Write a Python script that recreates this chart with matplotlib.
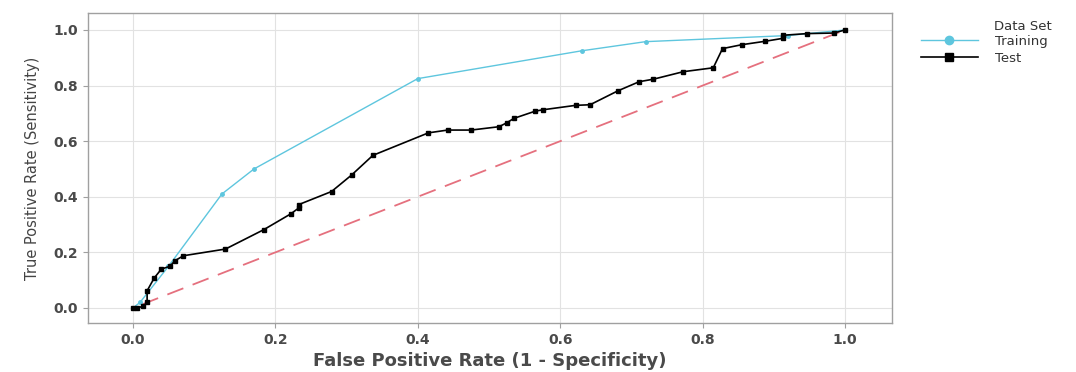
import matplotlib
matplotlib.use('Agg')
import matplotlib.pyplot as plt
from matplotlib.lines import Line2D

# ROC points
train_fpr = [0.0, 0.01, 0.05, 0.125, 0.17, 0.40, 0.63, 0.72, 0.92, 1.0]
train_tpr = [0.0, 0.02, 0.15, 0.41, 0.50, 0.825, 0.925, 0.958, 0.98, 1.0]

test_fpr = [0.0, 0.006, 0.014, 0.02, 0.02, 0.03, 0.04, 0.052, 0.059, 0.071,
            0.13, 0.184, 0.222, 0.233, 0.233, 0.279, 0.307, 0.337, 0.415, 0.442,
            0.475, 0.514, 0.525, 0.535, 0.565, 0.576, 0.622, 0.642, 0.681, 0.711,
            0.731, 0.773, 0.815, 0.828, 0.855, 0.887, 0.913, 0.913, 0.947, 0.984, 1.0]
test_tpr = [0.0, 0.0, 0.006, 0.02, 0.062, 0.108, 0.14, 0.15, 0.17, 0.188,
            0.212, 0.282, 0.339, 0.36, 0.372, 0.419, 0.478, 0.549, 0.63, 0.64,
            0.64, 0.652, 0.666, 0.682, 0.708, 0.713, 0.729, 0.731, 0.781, 0.814,
            0.823, 0.85, 0.864, 0.933, 0.947, 0.959, 0.97, 0.981, 0.987, 0.989, 1.0]

ref_x = [0.0, 1.0]
ref_y = [0.0, 1.0]

fig = plt.figure(figsize=(10.76, 3.72), dpi=100)
ax = fig.add_axes([0.0818, 0.1317, 0.7472, 0.8333])

ax.plot(ref_x, ref_y, color='#e5707e', lw=1.3, linestyle=(9.5, (9.5, 5.5)), zorder=2)
ax.plot(train_fpr, train_tpr, color='#5ec6de', lw=1.0, marker='o', ms=2.5, zorder=3)
ax.plot(test_fpr, test_tpr, color='black', lw=1.2, marker='s', ms=3.2, zorder=4)

ax.set_xlim(-0.063, 1.066)
ax.set_ylim(-0.054, 1.061)
ticks = [0.0, 0.2, 0.4, 0.6, 0.8, 1.0]
ax.set_xticks(ticks)
ax.set_yticks(ticks)
ax.set_xticklabels(['%.1f' % t for t in ticks])
ax.set_yticklabels(['%.1f' % t for t in ticks])
ax.grid(True, color='#e2e2e2', lw=0.8)
ax.set_axisbelow(True)
for s in ax.spines.values():
    s.set_color('#a0a0a0')
    s.set_linewidth(1.0)
ax.tick_params(length=3.5, color='#a0a0a0', labelsize=10, labelcolor='#4a4a4a', pad=4)
for lab in ax.get_xticklabels() + ax.get_yticklabels():
    lab.set_fontweight('bold')

ax.set_xlabel('False Positive Rate (1 - Specificity)', fontsize=13, fontweight='semibold',
              color='#4a4a4a', labelpad=3)
ax.set_ylabel('True Positive Rate (Sensitivity)', fontsize=10.5,
              color='#444444', labelpad=9)

# legend: title placed above the labels, as in the original
fig.text(994 / 1076, 1 - 27 / 372, 'Data Set', fontsize=9.5, color='#333333',
         ha='left', va='center')
handles = [Line2D([], [], color='#5ec6de', lw=1.0, marker='o', ms=6),
           Line2D([], [], color='black', lw=1.2, marker='s', ms=6)]
leg = fig.legend(handles, ['Training', 'Test'], loc='upper left',
                 bbox_to_anchor=(921 / 1076, 1 - 35 / 372), frameon=False, fontsize=9.5,
                 handlelength=4.3, labelspacing=0.3, borderpad=0,
                 borderaxespad=0, handletextpad=1.3)
for t in leg.get_texts():
    t.set_color('#333333')

fig.savefig('out.png', dpi=100)
